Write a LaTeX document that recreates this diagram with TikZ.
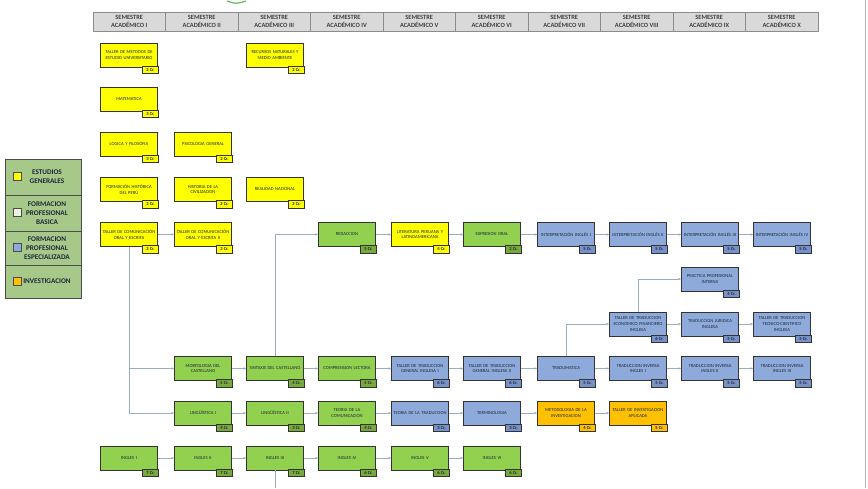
\documentclass[tikz,border=0pt]{standalone}
\usepackage{fontspec}
\setmainfont{Carlito}
\usepackage{tikz}
\usepackage{xcolor}
\usetikzlibrary{arrows.meta}

\definecolor{cgen}{HTML}{FFFF00}
\definecolor{cbas}{HTML}{92D050}
\definecolor{cesp}{HTML}{8EAADB}
\definecolor{cinv}{HTML}{FFC000}
\definecolor{cbascr}{HTML}{77A93C}
\definecolor{cespcr}{HTML}{7692C8}
\definecolor{chdr}{HTML}{D9D9D9}
\definecolor{clink}{HTML}{9AAEC2}
\definecolor{cleg}{HTML}{A6C98A}
\definecolor{cpale}{HTML}{EBF1DE}
\definecolor{ink}{HTML}{1E2738}

\tikzset{
  course/.style={draw=black!80, line width=0.7pt, minimum width=57pt,
    minimum height=24pt, text width=55pt, inner sep=0pt, align=center,
    font=\fontsize{4.6}{5.8}\selectfont, text=ink},
  gen/.style={course, fill=cgen},
  bas/.style={course, fill=cbas},
  esp/.style={course, fill=cesp},
  inv/.style={course, fill=cinv},
  cr/.style={draw=black!80, line width=0.6pt, minimum width=16pt,
    minimum height=7.5pt, inner sep=0pt, anchor=north east, xshift=1pt,
    yshift=1.5pt, font=\fontsize{4.6}{5}\selectfont\bfseries, text=ink},
  gencr/.style={cr, fill=cgen},
  bascr/.style={cr, fill=cbascr},
  espcr/.style={cr, fill=cespcr},
  invcr/.style={cr, fill=cinv},
  sem/.style={draw=black!45, fill=chdr, minimum width=72.5pt,
    minimum height=19pt, inner sep=0pt, align=center,
    font=\fontsize{6.4}{7.4}\selectfont\bfseries, text=black!75},
  legcell/.style={draw=black!70, fill=cleg, minimum width=76pt, inner sep=0pt},
  legbox/.style={draw=black!70, minimum size=8pt, inner sep=0pt},
  legtext/.style={align=center, inner sep=0pt, text=ink,
    font=\fontsize{7.2}{9}\selectfont\bfseries},
  link/.style={->, >={Stealth[length=3pt,width=2.4pt]}, draw=clink,
    line width=0.6pt},
}

\begin{document}
\begin{tikzpicture}[x=1pt, y=-1pt]
    \path [use as bounding box, fill=white] (0,0) rectangle (868,488);
    \draw [black!30] (865,0) -- (865,488);
    \draw [color=cbas!70!teal, line width=1.2pt] (227,1) .. controls (236,4) .. (246,1);

    % semesters
    \path (129.25,21.5) node [sem] (s1) {SEMESTRE\\ACADÉMICO I};
    \path (201.75,21.5) node [sem] (s2) {SEMESTRE\\ACADÉMICO II};
    \path (274.25,21.5) node [sem] (s3) {SEMESTRE\\ACADÉMICO III};
    \path (346.75,21.5) node [sem] (s4) {SEMESTRE\\ACADÉMICO IV};
    \path (419.25,21.5) node [sem] (s5) {SEMESTRE\\ACADÉMICO V};
    \path (491.75,21.5) node [sem] (s6) {SEMESTRE\\ACADÉMICO VI};
    \path (564.25,21.5) node [sem] (s7) {SEMESTRE\\ACADÉMICO VII};
    \path (636.75,21.5) node [sem] (s8) {SEMESTRE\\ACADÉMICO VIII};
    \path (709.25,21.5) node [sem] (s9) {SEMESTRE\\ACADÉMICO IX};
    \path (781.75,21.5) node [sem] (s10) {SEMESTRE\\ACADÉMICO X};

    % legend
    \path (43,177) node [legcell, minimum height=36pt] (lc1) {};
    \path (43,213) node [legcell, minimum height=36pt] (lc2) {};
    \path (43,248) node [legcell, minimum height=34pt] (lc3) {};
    \path (43,281.5) node [legcell, minimum height=33pt] (lc4) {};
    \path (17,176) node [legbox, fill=cgen] (lb1) {};
    \path (17,212) node [legbox, fill=cpale] (lb2) {};
    \path (17,247) node [legbox, fill=cesp] (lb3) {};
    \path (17,281) node [legbox, fill=cinv] (lb4) {};
    \path (47,177) node [legtext] (lt1) {ESTUDIOS\\GENERALES};
    \path (47,213) node [legtext] (lt2) {FORMACION\\PROFESIONAL\\BASICA};
    \path (47,248) node [legtext] (lt3) {FORMACION\\PROFESIONAL\\ESPECIALIZADA};
    \path (47,281.5) node [legtext] (lt4) {INVESTIGACION};

    % estudios generales
    \path (129,55) node [gen] (tme) {TALLER DE METODOS DE\\ESTUDIO UNIVERSITARIO} (tme.south east) node [gencr] (tmecr) {2 Cr.};
    \path (275,55) node [gen] (rna) {RECURSOS NATURALES Y\\MEDIO AMBIENTE} (rna.south east) node [gencr] (rnacr) {2 Cr.};
    \path (129,99) node [gen] (mat) {MATEMATICA} (mat.south east) node [gencr] (matcr) {3 Cr.};
    \path (129,144) node [gen] (lof) {LOGICA Y FILOSOFIA} (lof.south east) node [gencr] (lofcr) {3 Cr.};
    \path (203,144) node [gen] (psi) {PSICOLOGIA GENERAL} (psi.south east) node [gencr] (psicr) {2 Cr.};
    \path (129,189.5) node [gen] (fhp) {FORMACIÓN HISTÓRICA\\DEL PERÚ} (fhp.south east) node [gencr] (fhpcr) {2 Cr.};
    \path (203,189.5) node [gen] (hci) {HISTORIA DE LA\\CIVILIZACION} (hci.south east) node [gencr] (hcicr) {2 Cr.};
    \path (275,189.5) node [gen] (rea) {REALIDAD NACIONAL} (rea.south east) node [gencr] (reacr) {2 Cr.};
    \path (129,234.5) node [gen] (tc1) {TALLER DE COMUNICACIÓN\\ORAL Y ESCRITA} (tc1.south east) node [gencr] (tc1cr) {2 Cr.};
    \path (203,234.5) node [gen] (tc2) {TALLER DE COMUNICACIÓN\\ORAL Y ESCRITA II} (tc2.south east) node [gencr] (tc2cr) {2 Cr.};
    \path (420,234.5) node [gen] (lit) {LITERATURA PERUANA Y\\LATINOAMERICANA} (lit.south east) node [gencr] (litcr) {4 Cr.};

    % formacion profesional basica
    \path (347,234.5) node [bas] (red) {REDACCION} (red.south east) node [bascr] (redcr) {5 Cr.};
    \path (492,234.5) node [bas] (exo) {EXPRESION ORAL} (exo.south east) node [bascr] (exocr) {2 Cr.};
    \path (203,368.5) node [bas] (mor) {MORFOLOGIA DEL\\CASTELLANO} (mor.south east) node [bascr] (morcr) {5 Cr.};
    \path (275,368.5) node [bas] (sin) {SINTAXIS DEL CASTELLANO} (sin.south east) node [bascr] (sincr) {4 Cr.};
    \path (347,368.5) node [bas] (com) {COMPRENSION LECTORA} (com.south east) node [bascr] (comcr) {5 Cr.};
    \path (203,413) node [bas] (li1) {LINGÜÍSTICA I} (li1.south east) node [bascr] (li1cr) {4 Cr.};
    \path (275,413) node [bas] (li2) {LINGÜÍSTICA II} (li2.south east) node [bascr] (li2cr) {3 Cr.};
    \path (347,413) node [bas] (tco) {TEORIA DE LA\\COMUNICACION} (tco.south east) node [bascr] (tcocr) {4 Cr.};
    \path (129,458) node [bas] (in1) {INGLES I} (in1.south east) node [bascr] (in1cr) {7 Cr.};
    \path (203,458) node [bas] (in2) {INGLES II} (in2.south east) node [bascr] (in2cr) {7 Cr.};
    \path (275,458) node [bas] (in3) {INGLES III} (in3.south east) node [bascr] (in3cr) {7 Cr.};
    \path (347,458) node [bas] (in4) {INGLES IV} (in4.south east) node [bascr] (in4cr) {6 Cr.};
    \path (420,458) node [bas] (in5) {INGLES V} (in5.south east) node [bascr] (in5cr) {6 Cr.};
    \path (492,458) node [bas] (in6) {INGLES VI} (in6.south east) node [bascr] (in6cr) {6 Cr.};

    % formacion profesional especializada
    \path (566,234.5) node [esp] (ip1) {INTERPRETACIÓN INGLÉS I} (ip1.south east) node [espcr] (ip1cr) {5 Cr.};
    \path (638,234.5) node [esp] (ip2) {INTERPRETACIÓN INGLÉS II} (ip2.south east) node [espcr] (ip2cr) {5 Cr.};
    \path (710,234.5) node [esp] (ip3) {INTERPRETACIÓN INGLÉS III} (ip3.south east) node [espcr] (ip3cr) {5 Cr.};
    \path (782,234.5) node [esp] (ip4) {INTERPRETACIÓN INGLÉS IV} (ip4.south east) node [espcr] (ip4cr) {5 Cr.};
    \path (710,279) node [esp] (ppi) {PRACTICA PROFESIONAL\\INTERNA} (ppi.south east) node [espcr] (ppicr) {4 Cr.};
    \path (638,324) node [esp] (tef) {TALLER DE TRADUCCION\\ECONOMICO FINANCIERO\\INGLESA} (tef.south east) node [espcr] (tefcr) {6 Cr.};
    \path (710,324) node [esp] (tji) {TRADUCCION JURIDICA\\INGLESA} (tji.south east) node [espcr] (tjicr) {5 Cr.};
    \path (782,324) node [esp] (ttc) {TALLER DE TRADUCCION\\TECNICO-CIENTIFICO\\INGLESA} (ttc.south east) node [espcr] (ttccr) {5 Cr.};
    \path (420,368.5) node [esp] (tg1) {TALLER DE TRADUCCION\\GENERAL INGLESA I} (tg1.south east) node [espcr] (tg1cr) {6 Cr.};
    \path (492,368.5) node [esp] (tg2) {TALLER DE TRADUCCION\\GENERAL INGLESA II} (tg2.south east) node [espcr] (tg2cr) {6 Cr.};
    \path (566,368.5) node [esp] (tdm) {TRADUMATICA} (tdm.south east) node [espcr] (tdmcr) {5 Cr.};
    \path (638,368.5) node [esp] (ti1) {TRADUCCION INVERSA\\INGLES I} (ti1.south east) node [espcr] (ti1cr) {5 Cr.};
    \path (710,368.5) node [esp] (ti2) {TRADUCCION INVERSA\\INGLES II} (ti2.south east) node [espcr] (ti2cr) {5 Cr.};
    \path (782,368.5) node [esp] (ti3) {TRADUCCION INVERSA\\INGLES III} (ti3.south east) node [espcr] (ti3cr) {5 Cr.};
    \path (420,413) node [esp] (ttr) {TEORIA DE LA TRADUCCION} (ttr.south east) node [espcr] (ttrcr) {3 Cr.};
    \path (492,413) node [esp] (ter) {TERMINOLOGIA} (ter.south east) node [espcr] (tercr) {3 Cr.};

    % investigacion
    \path (566,413) node [inv] (met) {METODOLOGIA DE LA\\INVESTIGACION} (met.south east) node [invcr] (metcr) {4 Cr.};
    \path (638,413) node [inv] (tia) {TALLER DE INVESTIGACION\\APLICADA} (tia.south east) node [invcr] (tiacr) {5 Cr.};

    % links
    \draw [link] (tc1) -- (tc2);
    \draw [link] (tc1.south) |- (mor.west);
    \draw [link] (tc1.south) |- (li1.west);
    \draw [link] (sin.north) |- (red.west);
    \draw [link] (red) -- (lit);
    \draw [link] (lit) -- (exo);
    \draw [link] (exo) -- (ip1);
    \draw [link] (ip1) -- (ip2);
    \draw [link] (ip2) -- (ip3);
    \draw [link] (ip3) -- (ip4);
    \draw [link] (tdm.north) |- (tef.west);
    \draw [link] (tef.north) |- (ppi.west);
    \draw [link] (tef) -- (tji);
    \draw [link] (tji) -- (ttc);
    \draw [link] (mor) -- (sin);
    \draw [link] (sin) -- (com);
    \draw [link] (com) -- (tg1);
    \draw [link] (tg1) -- (tg2);
    \draw [link] (tg2) -- (tdm);
    \draw [link] (tdm) -- (ti1);
    \draw [link] (ti1) -- (ti2);
    \draw [link] (ti2) -- (ti3);
    \draw [link] (li1) -- (li2);
    \draw [link] (li2) -- (tco);
    \draw [link] (tco) -- (ttr);
    \draw [link] (ttr) -- (ter);
    \draw [link] (ter) -- (met);
    \draw [link] (met) -- (tia);
    \draw [link] (in1) -- (in2);
    \draw [link] (in2) -- (in3);
    \draw [link] (in3) -- (in4);
    \draw [link] (in4) -- (in5);
    \draw [link] (in5) -- (in6);
    \coordinate (in3down) at (275,488);
    \draw [draw=clink, line width=0.6pt] (in3) -- (in3down);
\end{tikzpicture}
\end{document}
